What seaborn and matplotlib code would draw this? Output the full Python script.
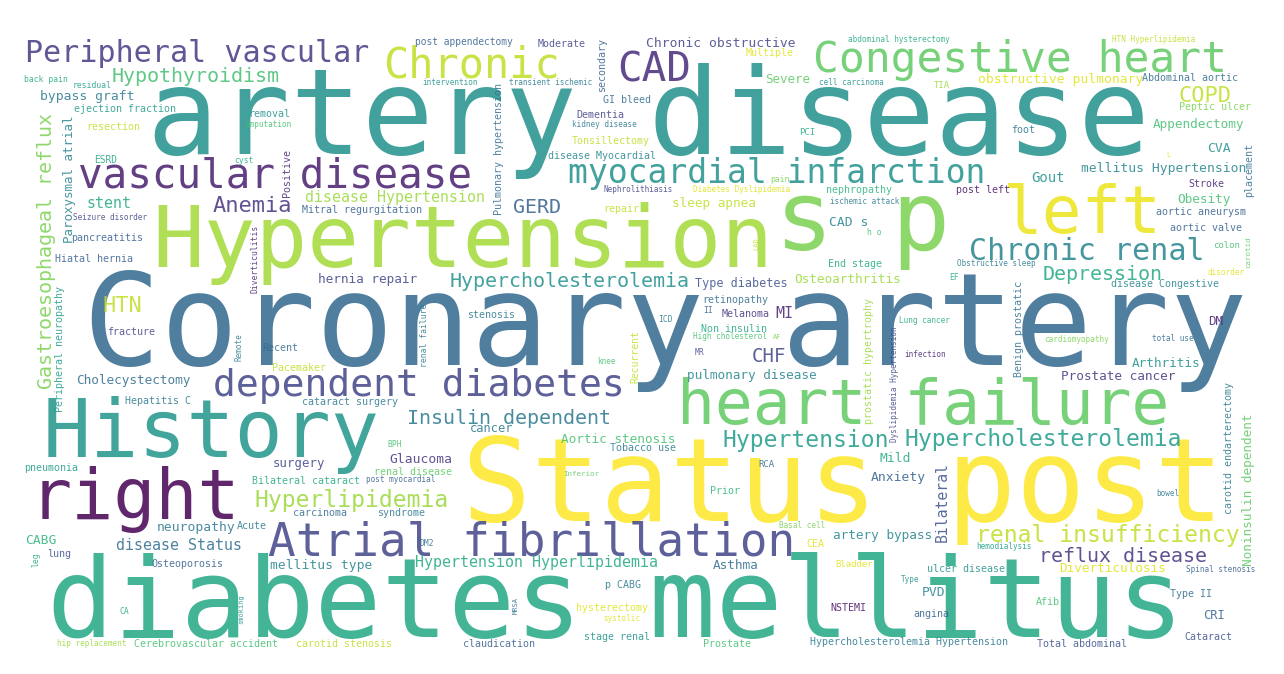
import matplotlib
matplotlib.use("Agg")
import matplotlib.pyplot as plt
import seaborn as sns

sns.set_theme(style="white")
plt.rcParams['font.family'] = ['DejaVu Sans Mono', 'DejaVu Sans']

# word, left x, baseline y, em size (px), rotation, viridis shade
rows = [
    ("Coronary artery", 83, 365, 129, 0, 0.33),
    ("artery disease", 147, 154, 119, 0, 0.5),
    ("diabetes mellitus", 47, 637, 111, 0, 0.6),
    ("Status post", 462, 521, 115, 0, 1.0),
    ("Hypertension", 152, 267, 86, 0, 0.86),
    ("s p", 775, 250, 97, 0, 0.8),
    ("left", 1003, 233, 66, 0, 0.97),
    ("History", 43, 457, 80, 0, 0.52),
    ("right", 30, 519, 70, 0, 0.0),
    ("heart failure", 677, 424, 63, 0, 0.75),
    ("Congestive heart", 813, 72, 43, 0, 0.75),
    ("Chronic", 383, 78, 42, 0, 0.9),
    ("CAD", 617, 82, 41, 0, 0.12),
    ("Peripheral vascular", 25, 62, 30, 0, 0.17),
    ("vascular disease", 78, 188, 41, 0, 0.08),
    ("myocardial infarction", 568, 183, 33, 0, 0.5),
    ("dependent diabetes", 213, 396, 38, 0, 0.2),
    ("Atrial fibrillation", 268, 556, 46, 0, 0.2),
    ("Chronic renal", 969, 260, 30, 0, 0.45),
    ("Hypertension", 723, 447, 23, 0, 0.55),
    ("Hypercholesterolemia", 904, 446, 23, 0, 0.55),
    ("Hypercholesterolemia", 450, 287, 20, 0, 0.5),
    ("Hyperlipidemia", 255, 507, 23, 0, 0.85),
    ("renal insufficiency", 976, 542, 23, 0, 0.9),
    ("reflux disease", 1039, 562, 20, 0, 0.15),
    ("Insulin dependent", 407, 424, 20, 0, 0.4),
    ("Depression", 1043, 280, 20, 0, 0.6),
    ("Anemia", 213, 212, 22, 0, 0.15),
    ("HTN", 103, 312, 22, 0, 0.9),
    ("GERD", 513, 213, 20, 0, 0.3),
    ("COPD", 1178, 102, 22, 0, 0.9),
    ("CHF", 752, 362, 19, 0, 0.2),
    ("Hypothyroidism", 112, 82, 20, 0, 0.7),
    ("disease Hypertension", 305, 202, 15, 0, 0.85),
    ("disease Status", 116, 550, 15, 0, 0.35),
    ("Hypertension Hyperlipidemia", 415, 567, 15, 0, 0.6),
    ("MI", 775, 318, 15, 0, 0.1),
    ("stent", 87, 208, 15, 0, 0.6),
    ("Gout", 1031, 182, 14, 0, 0.5),
    ("Glaucoma", 389, 463, 13, 0, 0.15),
    ("bypass graft", 40, 100, 13, 0, 0.4),
    ("Chronic obstructive", 646, 47, 13, 0, 0.2),
    ("obstructive pulmonary", 978, 83, 13, 0, 0.95),
    ("Severe", 765, 83, 12.5, 0, 0.75),
    ("sleep apnea", 672, 207, 12.6, 0, 0.9),
    ("Type diabetes", 695, 287, 11.7, 0, 0.25),
    ("Osteoarthritis", 794, 283, 12.8, 0, 0.85),
    ("Appendectomy", 1153, 128, 12.7, 0, 0.7),
    ("CVA", 1207, 152, 13, 0, 0.5),
    ("mellitus Hypertension", 1081, 172, 13, 0, 0.45),
    ("Obesity", 1177, 203, 12.8, 0, 0.7),
    ("Arthritis", 1132, 367, 12.8, 0, 0.5),
    ("Prostate cancer", 1061, 380, 12.8, 0, 0.15),
    ("Mild", 879, 462, 13, 0, 0.6),
    ("Anxiety", 871, 481, 13, 0, 0.3),
    ("artery bypass", 833, 539, 12.7, 0, 0.45),
    ("Diverticulosis", 1059, 572, 12.8, 0, 0.95),
    ("PVD", 922, 596, 13, 0, 0.45),
    ("CRI", 1203, 619, 12, 0, 0.3),
    ("hernia repair", 318, 283, 12.8, 0, 0.2),
    ("Cholecystectomy", 76, 384, 12.8, 0, 0.35),
    ("surgery", 273, 467, 12.4, 0, 0.2),
    ("neuropathy", 157, 531, 13, 0, 0.4),
    ("CABG", 25, 544, 13, 0, 0.65),
    ("mellitus type", 270, 569, 13, 0, 0.45),
    ("pulmonary disease", 687, 379, 12.8, 0, 0.45),
    ("Aortic stenosis", 561, 443, 12.8, 0, 0.7),
    ("Asthma", 713, 569, 12.7, 0, 0.35),
    ("cancer", 470, 432, 12, 0, 0.4),
    ("CAD s", 829, 226, 13, 0, 0.45),
    ("Peptic ulcer", 1179, 110, 10, 0, 0.8),
    ("Abdominal aortic", 1142, 81, 10, 0, 0.35),
    ("aortic aneurysm", 1156, 215, 10, 0, 0.3),
    ("aortic valve", 1170, 231, 10, 0, 0.3),
    ("Stroke", 1188, 187, 10, 0, 0.1),
    ("post left", 956, 193, 10, 0, 0.05),
    ("foot", 1011, 133, 10, 0, 0.4),
    ("TIA", 934, 88, 9, 0, 0.85),
    ("colon", 1213, 248, 9, 0, 0.7),
    ("EF", 949, 280, 8, 0, 0.6),
    ("disease Congestive", 1111, 287, 10, 0, 0.45),
    ("DM", 1208, 325, 12.5, 0, 0.1),
    ("Type II", 1170, 597, 10, 0, 0.35),
    ("angina", 913, 617, 10, 0, 0.3),
    ("Afib", 1036, 605, 10, 0, 0.7),
    ("ulcer disease", 927, 572, 10, 0, 0.5),
    ("Cataract", 1184, 640, 10, 0, 0.25),
    ("Total abdominal", 1037, 647, 10, 0, 0.25),
    ("Hypercholesterolemia Hypertension", 810, 645, 10, 0, 0.4),
    ("NSTEMI", 830, 611, 10, 0, 0.05),
    ("post appendectomy", 415, 45, 9.7, 0, 0.3),
    ("Moderate", 538, 47, 10, 0, 0.2),
    ("Multiple", 746, 56, 10, 0, 0.95),
    ("GI bleed", 603, 103, 10, 0, 0.35),
    ("Dementia", 576, 118, 10, 0, 0.2),
    ("PCI", 799, 135, 9, 0, 0.6),
    ("Tonsillectomy", 572, 144, 10, 0, 0.9),
    ("disease Myocardial", 548, 159, 10, 0, 0.45),
    ("nephropathy", 826, 193, 10, 0, 0.65),
    ("repair", 603, 212, 10, 0, 0.9),
    ("End stage", 828, 267, 10, 0, 0.6),
    ("retinopathy", 702, 303, 10, 0, 0.35),
    ("Melanoma", 722, 317, 10, 0, 0.15),
    ("stenosis", 467, 318, 10, 0, 0.4),
    ("Non insulin", 701, 332, 10, 0, 0.6),
    ("ejection fraction", 74, 112, 10, 0, 0.55),
    ("removal", 248, 117, 10, 0, 0.5),
    ("resection", 86, 130, 10, 0, 0.9),
    ("ESRD", 94, 163, 9.7, 0, 0.6),
    ("Mitral regurgitation", 302, 213, 10, 0, 0.3),
    ("pancreatitis", 71, 241, 10, 0, 0.3),
    ("Hiatal hernia", 55, 262, 10, 0, 0.3),
    ("fracture", 107, 335, 10, 0, 0.2),
    ("Recent", 262, 351, 10, 0, 0.35),
    ("Pacemaker", 272, 371, 10, 0, 0.9),
    ("Hepatitis C", 125, 404, 10, 0, 0.4),
    ("cataract surgery", 302, 405, 10, 0, 0.4),
    ("pneumonia", 24, 471, 10, 0, 0.55),
    ("renal disease", 374, 475, 10, 0, 0.75),
    ("Bilateral cataract", 252, 484, 10, 0, 0.6),
    ("carcinoma", 293, 516, 10, 0, 0.35),
    ("syndrome", 377, 516, 10, 0, 0.4),
    ("Acute", 237, 529, 10, 0, 0.4),
    ("lung", 47, 557, 10, 0, 0.25),
    ("Osteoporosis", 151, 567, 10, 0, 0.3),
    ("Cerebrovascular accident", 134, 647, 10, 0, 0.7),
    ("carotid stenosis", 296, 647, 10, 0, 0.9),
    ("Tobacco use", 610, 451, 10, 0, 0.4),
    ("Prior", 710, 494, 10, 0, 0.65),
    ("CEA", 806, 547, 10, 0, 0.95),
    ("p CABG", 605, 588, 10, 0, 0.4),
    ("hysterectomy", 576, 611, 10, 0, 0.95),
    ("stage renal", 584, 640, 10, 0, 0.5),
    ("claudication", 463, 647, 10, 0, 0.3),
    ("Prostate", 703, 647, 10, 0, 0.7),
    ("back pain", 24, 82, 8, 0, 0.6),
    ("residual", 73, 88, 8, 0, 0.55),
    ("amputation", 246, 127, 7.6, 0, 0.7),
    ("cyst", 234, 163, 8, 0, 0.6),
    ("Seizure disorder", 73, 220, 7.7, 0, 0.2),
    ("intervention", 422, 85, 7.7, 0, 0.5),
    ("transient ischemic", 509, 85, 7.7, 0, 0.4),
    ("kidney disease", 572, 127, 7.7, 0, 0.4),
    ("pain", 770, 182, 8, 0, 0.8),
    ("Nephrolithiasis", 603, 192, 7.7, 0, 0.2),
    ("Diabetes Dyslipidemia", 693, 192, 7.7, 0, 0.95),
    ("ischemic attack", 830, 204, 7.7, 0, 0.4),
    ("h o", 867, 235, 8, 0, 0.7),
    ("II", 703, 313, 8, 0, 0.3),
    ("ICD", 658, 322, 8, 0, 0.4),
    ("High cholesterol", 693, 339, 7.7, 0, 0.7),
    ("AF", 773, 339, 7, 0, 0.8),
    ("abdominal hysterectomy", 848, 42, 7.7, 0, 0.6),
    ("HTN Hyperlipidemia", 1112, 42, 7.7, 0, 0.9),
    ("cell carcinoma", 819, 85, 7.7, 0, 0.5),
    ("L", 1166, 157, 7, 0, 0.95),
    ("Obstructive sleep", 957, 266, 7.7, 0, 0.4),
    ("disorder", 1208, 275, 7.7, 0, 0.95),
    ("Lung cancer", 899, 323, 7.7, 0, 0.6),
    ("cardiomyopathy", 1044, 342, 7.7, 0, 0.8),
    ("total use", 1152, 341, 7.7, 0, 0.35),
    ("infection", 904, 357, 7.7, 0, 0.1),
    ("bowel", 1156, 496, 7.7, 0, 0.4),
    ("hemodialysis", 976, 549, 7.7, 0, 0.55),
    ("Spinal stenosis", 1186, 572, 7.7, 0, 0.3),
    ("Type", 901, 582, 7.7, 0, 0.5),
    ("knee", 597, 364, 7.7, 0, 0.7),
    ("MR", 695, 355, 8, 0, 0.2),
    ("RCA", 758, 467, 9, 0, 0.35),
    ("Inferior", 563, 476, 7.5, 0, 0.75),
    ("Basal cell", 779, 528, 7.7, 0, 0.8),
    ("Bladder", 835, 567, 9, 0, 0.95),
    ("systolic", 603, 621, 7.7, 0, 0.95),
    ("post myocardial", 366, 482, 7.7, 0, 0.3),
    ("BPH", 387, 447, 8, 0, 0.7),
    ("DM2", 420, 546, 8, 0, 0.35),
    ("CA", 120, 614, 8, 0, 0.6),
    ("hip replacement", 57, 646, 7.7, 0, 0.85),
    # vertical words: x = baseline column, y = bottom end
    ("Gastroesophageal reflux", 52, 389, 20, 90, 0.8),
    ("Paroxysmal atrial", 73, 243, 12.5, 90, 0.45),
    ("Positive", 290, 197, 10, 90, 0.1),
    ("Diverticulitis", 258, 293, 8, 90, 0.1),
    ("Peripheral neuropathy", 63, 412, 10, 90, 0.55),
    ("secondary", 605, 92, 10, 90, 0.3),
    ("Pulmonary hypertension", 502, 215, 10, 90, 0.35),
    ("LAD", 758, 250, 7, 90, 0.9),
    ("placement", 1252, 197, 10, 90, 0.35),
    ("carotid", 1250, 268, 7.5, 90, 0.75),
    ("prostatic hypertrophy", 872, 424, 10, 90, 0.85),
    ("Benign prostatic", 1022, 377, 10, 90, 0.35),
    ("Dyslipidemia Hypertension", 897, 442, 7.7, 90, 0.2),
    ("carotid endarterectomy", 1232, 514, 10, 90, 0.4),
    ("Noninsulin dependent", 1252, 566, 12.8, 90, 0.75),
    ("Bilateral", 947, 542, 14.8, 90, 0.25),
    ("Remote", 242, 361, 7.7, 90, 0.4),
    ("renal failure", 427, 367, 8, 90, 0.4),
    ("leg", 38, 567, 8, 90, 0.6),
    ("smoking", 243, 624, 7, 90, 0.5),
    ("Recurrent", 638, 383, 9.8, 90, 0.9),
    ("MRSA", 518, 614, 7, 90, 0.35),
]

words = [r[0] for r in rows]
xs = [r[1] for r in rows]
ys = [r[2] for r in rows]
ems = [r[3] for r in rows]
rots = [r[4] for r in rows]
shades = [r[5] for r in rows]

cmap = sns.color_palette("viridis", as_cmap=True)

W, H = 1284, 674
fig = plt.figure(figsize=(W / 100, H / 100), dpi=100)
ax = fig.add_axes([0, 0, 1, 1])
ax.set_xlim(0, W)
ax.set_ylim(H, 0)
ax.axis("off")

for w, x, y, em, rot, s in zip(words, xs, ys, ems, rots, shades):
    ax.text(x, y, w, fontsize=em * 0.72, rotation=rot, rotation_mode="anchor",
            ha="left", va="baseline", color=cmap(s), alpha=0.85)

fig.savefig("out.png", dpi=100, facecolor="white")
